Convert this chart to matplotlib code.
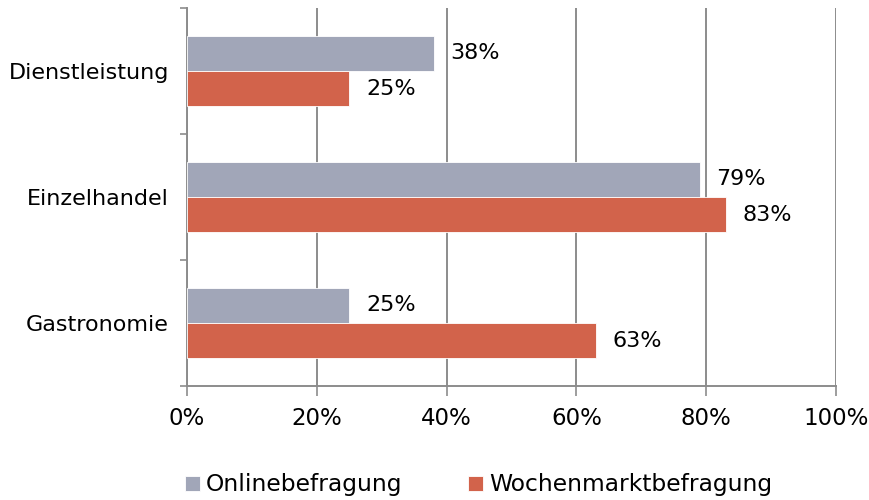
import numpy as np
import matplotlib
matplotlib.use("Agg")
import matplotlib.pyplot as plt
from matplotlib.ticker import FixedLocator, PercentFormatter

# data
categories = ["Dienstleistung", "Einzelhandel", "Gastronomie"]
online = [38, 79, 25]
wochenmarkt = [25, 83, 63]
series_names = ["Onlinebefragung", "Wochenmarktbefragung"]

plt.rcParams['font.family'] = ['DejaVu Sans']

grey = "#a1a6b8"
red = "#d2634b"
axis_col = "#8c8c8c"

fig = plt.figure(figsize=(8.7, 5), dpi=100)
ax = fig.add_axes([0.215, 0.228, 0.746, 0.756])

y = np.arange(len(categories))
h = 0.28
b1 = ax.barh(y - h / 2, online, height=h, color=grey, edgecolor="white", linewidth=0.6,
             label=series_names[0], zorder=3)
b2 = ax.barh(y + h / 2, wochenmarkt, height=h, color=red, edgecolor="white", linewidth=0.6,
             label=series_names[1], zorder=3)

for bars, vals in [(b1, online), (b2, wochenmarkt)]:
    ax.bar_label(bars, labels=[f"{v}%" for v in vals], padding=12, fontsize=16)

ax.set_xlim(0, 100)
ax.set_ylim(len(categories) - 0.5, -0.5)
ax.set_xticks(np.arange(0, 101, 20))
ax.xaxis.set_major_formatter(PercentFormatter(decimals=0))
ax.tick_params(axis="x", labelsize=16.5, length=7, width=1.2, color=axis_col, pad=8)

# category labels at band centres, ticks at band edges
ax.yaxis.set_major_locator(FixedLocator(np.arange(-0.5, len(categories), 1.0)))
ax.yaxis.set_minor_locator(FixedLocator(y))
ax.set_yticklabels([], minor=False)
ax.set_yticklabels(categories, minor=True)
ax.tick_params(axis="y", which="major", length=5, width=1.2, color=axis_col)
ax.tick_params(axis="y", which="minor", length=0, labelsize=16, pad=13)

ax.grid(axis="x", color=axis_col, linewidth=1.4, zorder=0)
ax.set_axisbelow(True)
for s in ["top", "right"]:
    ax.spines[s].set_visible(False)
for s in ["left", "bottom"]:
    ax.spines[s].set_color(axis_col)
    ax.spines[s].set_linewidth(1.4)

fig.legend(handles=[b1, b2], labels=series_names, loc="center", bbox_to_anchor=(0.55, 0.03),
           ncol=2, frameon=False, fontsize=16.8, handlelength=0.65, handleheight=0.65,
           handletextpad=0.25, columnspacing=2.8)

fig.savefig("out.png", dpi=100)
